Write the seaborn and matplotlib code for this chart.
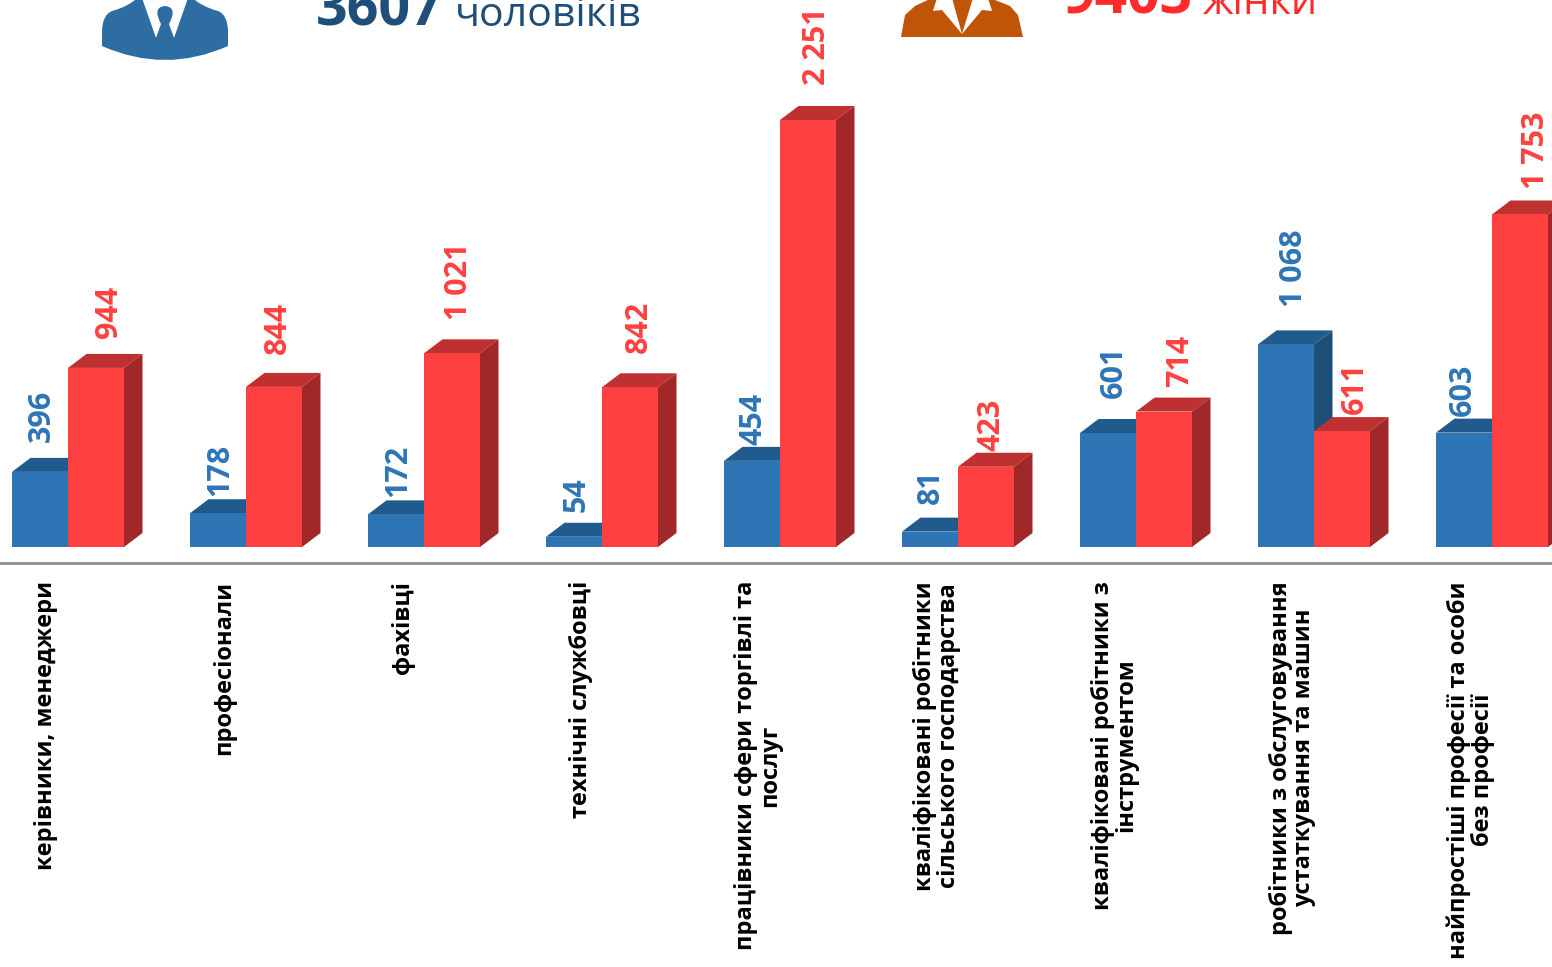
import matplotlib
matplotlib.use("Agg")
import matplotlib.pyplot as plt
from matplotlib.patches import PathPatch, Polygon
from matplotlib.path import Path
from matplotlib.transforms import ScaledTranslation
import pandas as pd
import seaborn as sb

categories = [
    "керівники, менеджери",
    "професіонали",
    "фахівці",
    "технічні службовці",
    "працівники сфери торгівлі та\nпослуг",
    "кваліфіковані робітники\nсільського господарства",
    "кваліфіковані робітники з\nінструментом",
    "робітники з обслуговування\nустаткування та машин",
    "найпростіші професії та особи\nбез професії",
]
men = [396, 178, 172, 54, 454, 81, 601, 1068, 603]
women = [944, 844, 1021, 842, 2251, 423, 714, 611, 1753]

# hand nudges for the value labels, in pixels (x, y above the default spot)
men_nudge = [(2, 14), (2, 1), (2, 1), (3, 9), (1, 0), (1, 12), (6, 19), (8, 21), (-1, 1)]
women_nudge = [(13, 14), (4, 17), (7, 17), (9, 18), (9, 19), (6, 0), (16, 9), (13, 1), (16, 9)]

BLUE, BLUE_TOP, BLUE_SIDE = "#2E75B6", "#215A8C", "#1F4E79"
RED, RED_TOP, RED_SIDE = "#FF4040", "#BF3030", "#A02828"

W, H = 1552, 967
BASE_Y, AXIS_Y = 547, 563     # pixel rows of the bar base and the axis line
PX_PER_UNIT = 427 / 2251
PX_PER_CAT = 178
DEPTH_X, DEPTH_Y = 18.5, 14   # 3d extrusion in pixels


def fmt(v):
    return f"{v:,}".replace(",", " ")


def add_depth(ax, bar, top_col, side_col, z):
    x0, w, h = bar.get_x(), bar.get_width(), bar.get_height()
    dx, dy = DEPTH_X / PX_PER_CAT, DEPTH_Y / PX_PER_UNIT
    x1 = x0 + w
    ax.add_patch(Polygon([(x0, h), (x1, h), (x1 + dx, h + dy), (x0 + dx, h + dy)],
                         fc=top_col, ec="none", zorder=z))
    ax.add_patch(Polygon([(x1, 0), (x1 + dx, dy), (x1 + dx, h + dy), (x1, h)],
                         fc=side_col, ec="none", zorder=z))


def draw_icons(fig):
    ov = fig.add_axes([0, 0, 1, 1], zorder=5)
    ov.set_xlim(0, W)
    ov.set_ylim(H, 0)
    ov.axis("off")
    C3, M, L = Path.CURVE3, Path.MOVETO, Path.LINETO
    # man
    verts = [(140, -4), (128, 7), (112, 11), (102, 15), (102, 32), (102, 46),
             (165, 74), (228, 46), (228, 32), (228, 15), (218, 11), (202, 7), (190, -4), (140, -4)]
    codes = [M, C3, C3, C3, C3, L, C3, C3, L, C3, C3, C3, C3, L]
    ov.add_patch(PathPatch(Path(verts, codes), fc="#2E6CA4", ec="none"))
    ov.add_patch(Polygon([(142, -2), (156, 38), (165, 24), (174, 38), (188, -2)], fc="white", ec="none"))
    ov.add_patch(Polygon([(161, 24), (169, 24), (174, 38), (165, 46), (156, 38)], fc="#2E6CA4", ec="none"))
    tie = [(161, 24), (152, 7), (165, 6), (178, 7), (169, 24), (161, 24)]
    ov.add_patch(PathPatch(Path(tie, [M, C3, C3, C3, C3, L]), fc="#2E6CA4", ec="none"))
    # woman
    ov.add_patch(Polygon([(901, 37), (905, 15), (915, 6), (932, -2), (990, -2), (1010, 6),
                          (1018, 15), (1023, 37)], fc="#C05508", ec="none"))
    ov.add_patch(Polygon([(937, -2), (933, 11), (942, 10), (962, 34), (952, -2)], fc="white", ec="none"))
    ov.add_patch(Polygon([(973, -2), (962, 34), (982, 10), (992, 11), (988, -2)], fc="white", ec="none"))
    # header text, cut by the top edge as in the source
    ov.text(316, 26, f"{sum(men)}", color="#1F4E79", fontsize=40, fontweight="bold")
    ov.text(455, 26, "чоловіків", color="#1F4E79", fontsize=29.5)
    ov.text(1062, 14, f"{sum(women)}", color="#FF2A2A", fontsize=41, fontweight="bold")
    ov.text(1203, 14, "жінки", color="#FF2A2A", fontsize=30)


def main():
    sb.set_theme(style="white")
    plt.rcParams["font.family"] = ["Open Sans", "DejaVu Sans"]

    df = pd.DataFrame({"cat": categories * 2,
                       "sex": ["чоловіки"] * len(men) + ["жінки"] * len(women),
                       "n": men + women})

    fig = plt.figure(figsize=(W / 100, H / 100), dpi=100)
    ax = fig.add_axes([0, (H - AXIS_Y) / H, 1, AXIS_Y / H])
    sb.barplot(data=df, x="cat", y="n", hue="sex", palette=[BLUE, RED], width=112 / PX_PER_CAT,
               gap=0, legend=False, ax=ax, saturation=1, errorbar=None, linewidth=0)

    n = len(categories)
    ax.set_xlim(-68 / PX_PER_CAT, (W - 68) / PX_PER_CAT)
    ax.set_ylim(-(AXIS_Y - BASE_Y) / PX_PER_UNIT, BASE_Y / PX_PER_UNIT)
    ax.set_xlabel("")
    ax.set_ylabel("")
    ax.set_yticks([])
    for s in ["top", "left", "right"]:
        ax.spines[s].set_visible(False)
    ax.spines["bottom"].set_color("#8C8C8C")
    ax.spines["bottom"].set_linewidth(2)

    ax.tick_params(axis="x", length=0, pad=13)
    ax.set_xticks(range(n))
    ax.set_xticklabels(categories, rotation=90, fontsize=17, fontweight="bold", color="black",
                       ha="center", va="top", multialignment="center", linespacing=1.0)
    shift = ScaledTranslation(-21.5 / 100, 0, fig.dpi_scale_trans)
    for lab in ax.get_xticklabels():
        lab.set_transform(lab.get_transform() + shift)

    bars = [p for p in ax.patches if p.get_height() > 0]
    blue_bars, red_bars = bars[:n], bars[n:]
    for bar in blue_bars:
        bar.set_zorder(2)
        add_depth(ax, bar, BLUE_TOP, BLUE_SIDE, 1.5)
    for bar in red_bars:
        bar.set_zorder(4)
        add_depth(ax, bar, RED_TOP, RED_SIDE, 3)

    for group, vals, nudges, col in [(blue_bars, men, men_nudge, BLUE), (red_bars, women, women_nudge, RED)]:
        for bar, v, (nx, ny) in zip(group, vals, nudges):
            ax.annotate(fmt(v), (bar.get_x() + bar.get_width() / 2, v), xytext=(nx, 16 + ny),
                        textcoords="offset pixels", rotation=90, ha="center", va="bottom",
                        color=col, fontsize=22, fontweight="bold", zorder=6)

    draw_icons(fig)
    fig.savefig("out.png", dpi=100)


if __name__ == "__main__":
    main()
